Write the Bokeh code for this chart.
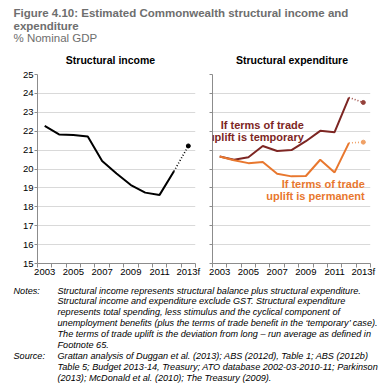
from bokeh.plotting import figure
from bokeh.layouts import column, row
from bokeh.models import Range1d, FixedTicker, Label
from bokeh.embed import file_html
from bokeh.resources import INLINE
from bokeh.core.properties import value

# ---------------- data ----------------
years = [2003, 2004, 2005, 2006, 2007, 2008, 2009, 2010, 2011, 2012, 2013]
tick_years = [2003, 2005, 2007, 2009, 2011, 2013]
tick_labels = ["2003", "2005", "2007", "2009", "2011", "2013f"]
y_ticks = [15, 16, 17, 18, 19, 20, 21, 22, 23, 24, 25]

structural_income = [22.28, 21.83, 21.80, 21.72, 20.42, 19.76, 19.15, 18.75, 18.63, 19.88, 21.22]
exp_temporary = [20.66, 20.49, 20.62, 21.22, 20.95, 21.00, 21.47, 22.02, 21.95, 23.78, 23.52]
exp_permanent = [20.66, 20.46, 20.31, 20.37, 19.75, 19.61, 19.63, 20.49, 19.82, 21.38, 21.42]

title_lines = ["Figure 4.10: Estimated Commonwealth structural income and", "expenditure"]
subtitle = "% Nominal GDP"
panel_titles = ["Structural income", "Structural expenditure"]
temp_label = ["If terms of trade", "uplift is temporary"]
perm_label = ["If terms of trade", "uplift is permanent"]
notes_lines = [
    "Structural income represents structural balance plus structural expenditure.",
    "Structural income and expenditure exclude GST. Structural expenditure",
    "represents total spending, less stimulus and the cyclical component of",
    "unemployment benefits (plus the terms of trade benefit in the \u2018temporary\u2019 case).",
    "The terms of trade uplift is the deviation from long \u2013 run average as defined in",
    "Footnote 65.",
]
source_lines = [
    "Grattan analysis of Duggan et al. (2013); ABS (2012d), Table 1; ABS (2012b)",
    "Table 5; Budget 2013-14, Treasury; ATO database 2002-03-2010-11; Parkinson",
    "(2013); McDonald et al. (2010); The Treasury (2009).",
]

FONT = "Liberation Sans"
GREY_TITLE = "#6E6E6E"
AXIS_GREY = "#8C8C8C"
GRID = "#D9D9D9"
DARK_RED = "#7D2623"
DARK_RED_LIGHT = "#94403A"
ORANGE = "#E8772E"
ORANGE_LIGHT = "#F0A166"

W = 387
H_HEAD = 66
H_ROW = 216
H_NOTES = 103


def blank(w, h):
    p = figure(width=w, height=h, x_range=Range1d(0, w), y_range=Range1d(h, 0),
               output_backend="svg", toolbar_location=None, min_border=0,
               x_axis_location=None, y_axis_location=None)
    p.grid.visible = False
    p.outline_line_color = None
    return p


# ---------------- header ----------------
head = blank(W, H_HEAD)
head.text(x=[13, 13], y=[12.5, 25], text=title_lines, text_font=value(FONT),
          text_font_size="11.5px", text_font_style="bold", text_color=GREY_TITLE,
          text_baseline="middle", text_align="left")
head.text(x=[13], y=[37.5], text=[subtitle], text_font=value(FONT),
          text_font_size="11.5px", text_color=GREY_TITLE,
          text_baseline="middle", text_align="left")
head.text(x=[110, 291.5], y=[59, 59], text=panel_titles, text_font=value(FONT),
          text_font_size="10.5px", text_font_style="bold", text_color="black",
          text_baseline="middle", text_align="center")


def panel(w, left, right, show_labels):
    p = figure(width=w, height=H_ROW, x_range=Range1d(2002.5, 2013.5), y_range=Range1d(15, 25),
               output_backend="svg", toolbar_location=None,
               min_border_left=left, min_border_right=right, min_border_top=8, min_border_bottom=19)
    p.outline_line_color = None
    p.xgrid.visible = False
    p.ygrid.grid_line_color = GRID
    p.ygrid.grid_line_width = 1
    p.yaxis.ticker = FixedTicker(ticks=y_ticks)
    p.xaxis.ticker = FixedTicker(ticks=tick_years, minor_ticks=[y - 0.5 for y in years] + [years[-1] + 0.5])
    p.xaxis.major_label_overrides = dict(zip(tick_years, tick_labels))
    for ax in (p.xaxis, p.yaxis):
        ax.axis_line_color = AXIS_GREY
        ax.major_tick_line_color = AXIS_GREY
        ax.minor_tick_line_color = AXIS_GREY
        ax.major_label_text_font = FONT
        ax.major_label_text_color = "black"
        ax.major_label_text_font_size = "9.5px"
    p.xaxis.major_tick_line_color = None
    p.xaxis.major_tick_in = 0
    p.xaxis.major_tick_out = 0
    p.xaxis.minor_tick_in = 0
    p.xaxis.minor_tick_out = 4
    p.xaxis.major_label_standoff = -2
    p.yaxis.minor_tick_line_color = None
    p.yaxis.major_tick_in = 0
    p.yaxis.major_tick_out = 3
    p.yaxis.major_label_standoff = 1
    if not show_labels:
        p.yaxis.major_label_overrides = {t: "" for t in y_ticks}
        p.yaxis.major_label_standoff = 0
    return p


left = panel(203, 37, 8, True)
left.line(years[:10], structural_income[:10], line_width=2, color="black")
left.line(years[9:], structural_income[9:], line_width=1.6, color="black", line_dash="1 2")
left.scatter(years[10:], structural_income[10:], size=4, color="black")

right = panel(184, 9, 17, False)
right.line(years[:10], exp_temporary[:10], line_width=2, color=DARK_RED)
right.line(years[9:], exp_temporary[9:], line_width=1.6, color=DARK_RED_LIGHT, line_dash="1 2")
right.scatter(years[10:], exp_temporary[10:], size=4, color=DARK_RED_LIGHT)
right.line(years[:10], exp_permanent[:10], line_width=2, color=ORANGE)
right.line(years[9:], exp_permanent[9:], line_width=1.6, color=ORANGE_LIGHT, line_dash="1 2")
right.scatter(years[10:], exp_permanent[10:], size=4, color=ORANGE_LIGHT)

for txt, yy in zip(temp_label, [22.35, 21.68]):
    right.add_layout(Label(x=2008.86, y=yy, text=txt, text_align="right", text_baseline="middle",
                           text_font=FONT, text_font_size="11px", text_font_style="bold",
                           text_color=DARK_RED))
for txt, yy in zip(perm_label, [19.22, 18.56]):
    right.add_layout(Label(x=2013.1, y=yy, text=txt, text_align="right", text_baseline="middle",
                           text_font=FONT, text_font_size="11px", text_font_style="bold",
                           text_color=ORANGE))

# ---------------- notes ----------------
notes = blank(W, H_NOTES)
LS = 10.9
y0 = 8
FS = "9.15px"
notes.text(x=[13], y=[y0], text=["Notes:"], text_font=value(FONT), text_font_size=FS,
           text_font_style="italic", text_baseline="middle", text_color="black")
notes.text(x=[57] * len(notes_lines), y=[y0 + i * LS for i in range(len(notes_lines))], text=notes_lines,
           text_font=value(FONT), text_font_size=FS, text_font_style="italic",
           text_baseline="middle", text_color="black")
ys = y0 + len(notes_lines) * LS
notes.text(x=[13], y=[ys], text=["Source:"], text_font=value(FONT), text_font_size=FS,
           text_font_style="italic", text_baseline="middle", text_color="black")
notes.text(x=[57] * len(source_lines), y=[ys + i * LS for i in range(len(source_lines))], text=source_lines,
           text_font=value(FONT), text_font_size=FS, text_font_style="italic",
           text_baseline="middle", text_color="black")

layout = column(head, row(left, right), notes)
open("out.html", "w").write(file_html(layout, INLINE))
